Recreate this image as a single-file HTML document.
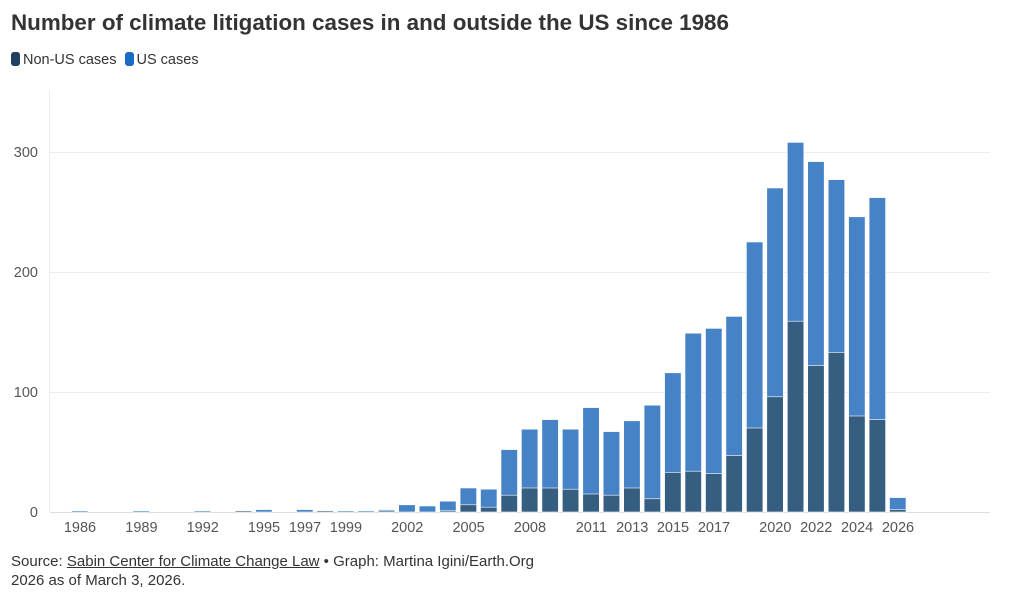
<!DOCTYPE html>
<html><head><meta charset="utf-8"><style>
body{margin:0;background:#fff;width:1020px;height:600px;overflow:hidden;font-family:"Liberation Sans",sans-serif;color:#333}
.t{position:absolute;left:11px;top:10px;font-size:22.4px;font-weight:bold;color:#333}
.lg{position:absolute;left:11px;top:52px;font-size:14.5px;color:#333}
.sw{display:inline-block;width:9px;height:14px;border-radius:3px;vertical-align:-2px;margin-right:3px}
.src{position:absolute;left:11px;top:552px;font-size:15px;line-height:19px;color:#333}
</style></head><body>
<div class="t">Number of climate litigation cases in and outside the US since 1986</div>
<div class="lg"><span class="sw" style="background:#1f3f5f"></span>Non-US cases <span class="sw" style="background:#1a6bc4;margin-left:4px"></span>US cases</div>
<svg width="1020" height="600" style="position:absolute;left:0;top:0">
<g stroke="#ececec" stroke-width="1">
<line x1="49.5" y1="90" x2="49.5" y2="512"/>
<line x1="50" y1="152.5" x2="990" y2="152.5"/>
<line x1="50" y1="272.5" x2="990" y2="272.5"/>
<line x1="50" y1="392.5" x2="990" y2="392.5"/>
<line x1="50" y1="512.5" x2="990" y2="512.5" stroke="#ddd"/>
</g>
<g font-size="14.5" fill="#555" text-anchor="end">
<text x="38" y="157">300</text><text x="38" y="277">200</text><text x="38" y="397">100</text><text x="38" y="517">0</text>
</g>
<g fill="#4583c6" stroke="#fff" stroke-width="0.6">
<rect x="71.5" y="510.8" width="16.5" height="1.2"/>
<rect x="132.9" y="510.8" width="16.5" height="1.2"/>
<rect x="194.2" y="510.8" width="16.5" height="1.2"/>
<rect x="255.6" y="509.6" width="16.5" height="2.4"/>
<rect x="296.5" y="509.6" width="16.5" height="2.4"/>
<rect x="337.4" y="510.8" width="16.5" height="1.2"/>
<rect x="357.8" y="510.8" width="16.5" height="1.2"/>
<rect x="378.3" y="509.6" width="16.5" height="2.4"/>
<rect x="398.7" y="504.8" width="16.5" height="7.2"/>
<rect x="419.2" y="506" width="16.5" height="6"/>
<rect x="439.6" y="501.2" width="16.5" height="10.8"/>
<rect x="460.1" y="488" width="16.5" height="24"/>
<rect x="480.5" y="489.2" width="16.5" height="22.8"/>
<rect x="501.0" y="449.6" width="16.5" height="62.4"/>
<rect x="521.4" y="429.2" width="16.5" height="82.8"/>
<rect x="541.9" y="419.6" width="16.5" height="92.4"/>
<rect x="562.3" y="429.2" width="16.5" height="82.8"/>
<rect x="582.8" y="407.6" width="16.5" height="104.4"/>
<rect x="603.2" y="431.6" width="16.5" height="80.4"/>
<rect x="623.7" y="420.8" width="16.5" height="91.2"/>
<rect x="644.1" y="405.2" width="16.5" height="106.8"/>
<rect x="664.6" y="372.8" width="16.5" height="139.2"/>
<rect x="685.0" y="333.2" width="16.5" height="178.8"/>
<rect x="705.5" y="328.4" width="16.5" height="183.6"/>
<rect x="725.9" y="316.4" width="16.5" height="195.6"/>
<rect x="746.4" y="242" width="16.5" height="270"/>
<rect x="766.8" y="188" width="16.5" height="324"/>
<rect x="787.3" y="142.4" width="16.5" height="369.6"/>
<rect x="807.7" y="161.6" width="16.5" height="350.4"/>
<rect x="828.2" y="179.6" width="16.5" height="332.4"/>
<rect x="848.6" y="216.8" width="16.5" height="295.2"/>
<rect x="869.1" y="197.6" width="16.5" height="314.4"/>
<rect x="889.5" y="497.6" width="16.5" height="14.4"/>
</g>
<g fill="#355e80" stroke="#fff" stroke-width="0.6">
<rect x="235.1" y="510.8" width="16.5" height="1.2"/>
<rect x="316.9" y="510.8" width="16.5" height="1.2"/>
<rect x="378.3" y="510.8" width="16.5" height="1.2"/>
<rect x="439.6" y="510.8" width="16.5" height="1.2"/>
<rect x="460.1" y="504.8" width="16.5" height="7.2"/>
<rect x="480.5" y="507.2" width="16.5" height="4.8"/>
<rect x="501.0" y="495.2" width="16.5" height="16.8"/>
<rect x="521.4" y="488" width="16.5" height="24"/>
<rect x="541.9" y="488" width="16.5" height="24"/>
<rect x="562.3" y="489.2" width="16.5" height="22.8"/>
<rect x="582.8" y="494" width="16.5" height="18"/>
<rect x="603.2" y="495.2" width="16.5" height="16.8"/>
<rect x="623.7" y="488" width="16.5" height="24"/>
<rect x="644.1" y="498.8" width="16.5" height="13.2"/>
<rect x="664.6" y="472.4" width="16.5" height="39.6"/>
<rect x="685.0" y="471.2" width="16.5" height="40.8"/>
<rect x="705.5" y="473.6" width="16.5" height="38.4"/>
<rect x="725.9" y="455.6" width="16.5" height="56.4"/>
<rect x="746.4" y="428" width="16.5" height="84"/>
<rect x="766.8" y="396.8" width="16.5" height="115.2"/>
<rect x="787.3" y="321.2" width="16.5" height="190.8"/>
<rect x="807.7" y="365.6" width="16.5" height="146.4"/>
<rect x="828.2" y="352.4" width="16.5" height="159.6"/>
<rect x="848.6" y="416" width="16.5" height="96"/>
<rect x="869.1" y="419.6" width="16.5" height="92.4"/>
<rect x="889.5" y="509.6" width="16.5" height="2.4"/>
</g>
<g font-size="14.5" fill="#555" text-anchor="middle">
<text x="80" y="532">1986</text><text x="141.4" y="532">1989</text><text x="202.7" y="532">1992</text>
<text x="264" y="532">1995</text><text x="305" y="532">1997</text><text x="345.9" y="532">1999</text>
<text x="407.2" y="532">2002</text><text x="468.6" y="532">2005</text><text x="529.9" y="532">2008</text>
<text x="591.3" y="532">2011</text><text x="632.2" y="532">2013</text><text x="673" y="532">2015</text>
<text x="714" y="532">2017</text><text x="775.3" y="532">2020</text><text x="816.2" y="532">2022</text>
<text x="857.1" y="532">2024</text><text x="898" y="532">2026</text>
</g>
</svg>
<div class="src">Source: <span style="text-decoration:underline">Sabin Center for Climate Change Law</span> • Graph: Martina Igini/Earth.Org<br>2026 as of March 3, 2026.</div>
</body></html>
